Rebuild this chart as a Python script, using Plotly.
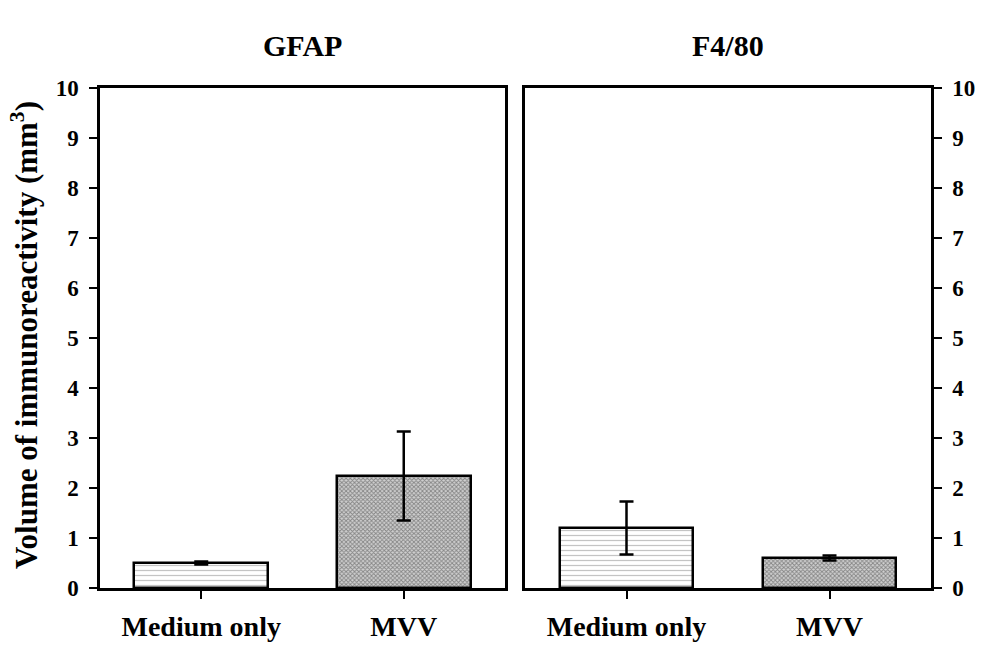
import plotly.graph_objects as go

categories = ["Medium only", "MVV"]
gfap_values = [0.50, 2.24]
gfap_errors = [0.03, 0.89]
f480_values = [1.20, 0.60]
f480_errors = [0.53, 0.05]
y_ticks = [0, 1, 2, 3, 4, 5, 6, 7, 8, 9, 10]
panel_titles = ["GFAP", "F4/80"]
y_title = "Volume of immunoreactivity (mm<sup>3</sup>)"

W, H = 983, 646
FONT = "Liberation Serif"

patterns = [
    dict(shape="-", size=5, solidity=0.25, fgcolor="#8a8a8a", bgcolor="white"),
    dict(shape="x", size=3, solidity=0.5, fgcolor="#3a3a3a", bgcolor="#d0d0d0"),
]

fig = go.Figure()

for vals, errs, xa, ya in [(gfap_values, gfap_errors, "x", "y"),
                           (f480_values, f480_errors, "x2", "y2")]:
    for i, cat in enumerate(categories):
        fig.add_trace(go.Bar(
            x=[cat], y=[vals[i]], xaxis=xa, yaxis=ya,
            width=0.66,
            marker=dict(color="white", pattern=patterns[i],
                        line=dict(color="black", width=2.5)),
            error_y=dict(type="data", array=[errs[i]], color="black",
                         thickness=2.5, width=7),
            showlegend=False,
        ))

base = dict(showline=True, linecolor="black", linewidth=2.5, mirror=True,
            ticks="outside", tickcolor="black", tickwidth=2, showgrid=False,
            zeroline=False, automargin=False, ticklen=8)
yfont = dict(family=FONT, size=23, color="black", weight="bold")
xfont = dict(family=FONT, size=28, color="black", weight="bold")

x1d = [100 / W, 505 / W]
x2d = [525 / W, 931 / W]
yd = [1 - 588 / H, 1 - 88 / H]

fig.update_layout(
    width=W, height=H, margin=dict(l=0, r=0, t=0, b=0, autoexpand=False),
    plot_bgcolor="white", paper_bgcolor="white", bargap=0,
    xaxis=dict(domain=x1d, anchor="y", range=[-0.5, 1.5], tickfont=xfont,
               ticklabelstandoff=4, **base),
    xaxis2=dict(domain=x2d, anchor="y2", range=[-0.5, 1.5], tickfont=xfont,
                ticklabelstandoff=4, **base),
    yaxis=dict(domain=yd, anchor="x", range=[0, 10], tickvals=y_ticks,
               side="left", tickfont=yfont, ticklabelstandoff=6, **base),
    yaxis2=dict(domain=yd, anchor="x2", range=[0, 10], tickvals=y_ticks,
                side="right", tickfont=yfont, ticklabelstandoff=6, **base),
)

title_font = dict(family=FONT, size=30, color="black", weight="bold")
fig.add_annotation(x=(x1d[0] + x1d[1]) / 2, y=1 - 45 / H, xref="paper", yref="paper",
                   xanchor="center", yanchor="middle",
                   text=panel_titles[0], showarrow=False, font=title_font)
fig.add_annotation(x=(x2d[0] + x2d[1]) / 2, y=1 - 45 / H, xref="paper", yref="paper",
                   xanchor="center", yanchor="middle",
                   text=panel_titles[1], showarrow=False, font=title_font)
fig.add_annotation(x=24 / W, y=1 - 335 / H, xref="paper", yref="paper",
                   xanchor="center", yanchor="middle",
                   text=y_title, showarrow=False, textangle=-90,
                   font=dict(family=FONT, size=31, color="black", weight="bold"))

fig.write_html("out.html")
